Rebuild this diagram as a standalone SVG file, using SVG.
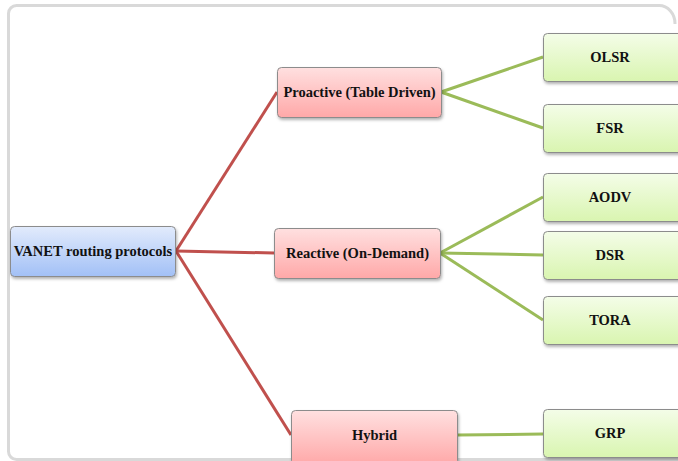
<svg xmlns="http://www.w3.org/2000/svg" width="678" height="461" viewBox="0 0 678 461">
<defs>
<linearGradient id="gb" x1="0" y1="0" x2="0" y2="1"><stop offset="0" stop-color="#e2ebfc"/><stop offset="1" stop-color="#a2c0f6"/></linearGradient>
<linearGradient id="gr" x1="0" y1="0" x2="0" y2="1"><stop offset="0" stop-color="#ffe0e0"/><stop offset="1" stop-color="#ffa8a8"/></linearGradient>
<linearGradient id="gg" x1="0" y1="0" x2="0" y2="1"><stop offset="0" stop-color="#f4fde8"/><stop offset="1" stop-color="#d9f5b0"/></linearGradient>
<filter id="sh" x="-10%" y="-20%" width="120%" height="150%"><feDropShadow dx="1" dy="2" stdDeviation="1.5" flood-color="#000" flood-opacity="0.3"/></filter>
</defs>
<style>
.n rect{stroke:#8c8c8c;stroke-width:1;filter:url(#sh)}
.b rect{fill:url(#gb)}
.r rect{fill:url(#gr)}
.g rect{fill:url(#gg)}
text{font-family:"Liberation Serif","Times New Roman",serif;font-weight:bold;font-size:14.5px;fill:#111;text-anchor:middle;dominant-baseline:central}
.red line{stroke:#c0504d;stroke-width:3}
.grn line{stroke:#9bbb59;stroke-width:3}
</style>
<rect x="0" y="0" width="678" height="461" fill="#fff"/>
<path d="M 675 24 A 16 18 0 0 0 659 5.5 H 16.5 A 8 8 0 0 0 8.5 13.5 V 451.5 A 8 8 0 0 0 16.5 459.5 H 678" fill="none" stroke="#d9d9d9" stroke-width="3"/>
<g id="connectors">
<g class="red">
<line x1="176" y1="251" x2="277" y2="92"/>
<line x1="176" y1="251" x2="274" y2="253"/>
<line x1="176" y1="251" x2="291" y2="435"/>
</g>
<g class="grn">
<line x1="441" y1="92" x2="543" y2="57"/>
<line x1="441" y1="92" x2="543" y2="128"/>
<line x1="440" y1="253" x2="543" y2="197"/>
<line x1="440" y1="253" x2="543" y2="255"/>
<line x1="440" y1="253" x2="543" y2="320"/>
<line x1="457" y1="435" x2="543" y2="434"/>
</g>
</g>
<g id="vanet" class="n b"><rect x="10.5" y="226.5" width="165" height="50" rx="4"/><text x="93" y="251">VANET routing protocols</text></g>
<g id="proactive" class="n r"><rect x="277.5" y="67.5" width="164" height="50" rx="4"/><text x="359.5" y="92">Proactive (Table Driven)</text></g>
<g id="reactive" class="n r"><rect x="274.5" y="228.5" width="166" height="50" rx="4"/><text x="357.5" y="253">Reactive (On-Demand)</text></g>
<g id="hybrid" class="n r"><rect x="291.5" y="410.5" width="166" height="54" rx="4"/><text x="374.5" y="435">Hybrid</text></g>
<g id="olsr" class="n g"><rect x="543.5" y="33.5" width="150" height="48" rx="4"/><text x="610" y="57">OLSR</text></g>
<g id="fsr" class="n g"><rect x="543.5" y="104.5" width="150" height="48" rx="4"/><text x="610" y="128">FSR</text></g>
<g id="aodv" class="n g"><rect x="543.5" y="173.5" width="150" height="48" rx="4"/><text x="610" y="197">AODV</text></g>
<g id="dsr" class="n g"><rect x="543.5" y="231.5" width="150" height="48" rx="4"/><text x="610" y="255">DSR</text></g>
<g id="tora" class="n g"><rect x="543.5" y="296.5" width="150" height="48" rx="4"/><text x="610" y="320">TORA</text></g>
<g id="grp" class="n g"><rect x="543.5" y="409.5" width="150" height="48" rx="4"/><text x="610" y="433">GRP</text></g>
</svg>
